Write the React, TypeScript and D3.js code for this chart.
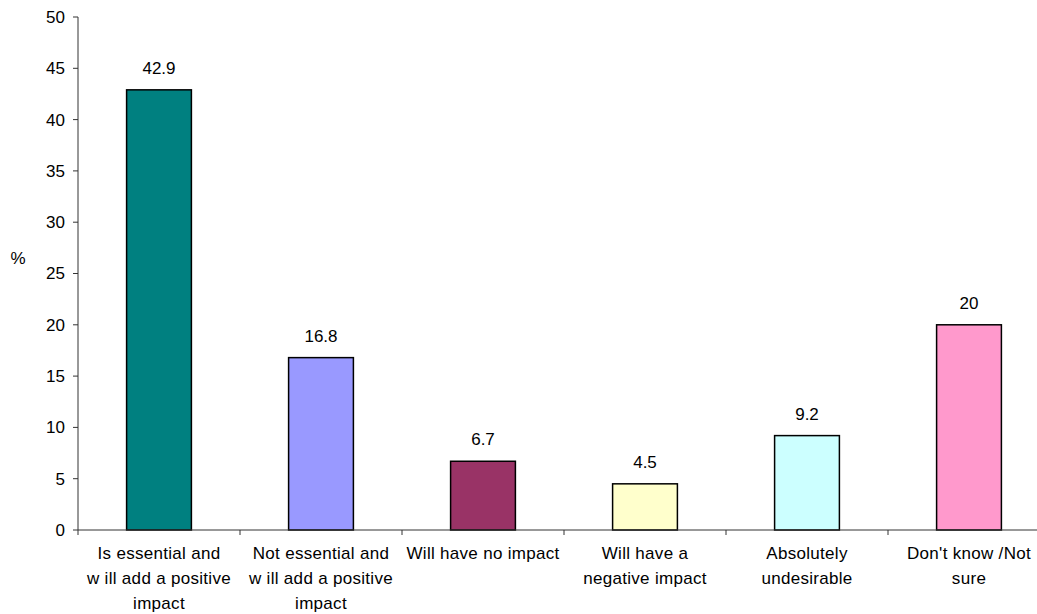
import React from "react";
import * as d3 from "d3";

const categories: string[][] = [
  ["Is essential and", "w ill add a positive", "impact"],
  ["Not essential and", "w ill add a positive", "impact"],
  ["Will have no impact"],
  ["Will have a", "negative impact"],
  ["Absolutely", "undesirable"],
  ["Don't know /Not", "sure"],
];
const values: number[] = [42.9, 16.8, 6.7, 4.5, 9.2, 20];
const valueLabels: string[] = ["42.9", "16.8", "6.7", "4.5", "9.2", "20"];
const colors: string[] = ["#008080", "#9999FF", "#993366", "#FFFFCC", "#CCFFFF", "#FF99CC"];
const yTicks: number[] = [0, 5, 10, 15, 20, 25, 30, 35, 40, 45, 50];

export default function App() {
  const W = 1037, H = 614;
  const left = 78, right = 1050, top = 17, bottom = 530;
  const idx = values.map((_, i) => String(i));
  const x = d3.scaleBand<string>().domain(idx).range([left, right]).paddingInner(0.6).paddingOuter(0.3);
  const y = d3.scaleLinear().domain([0, 50]).range([bottom, top]);
  const step = (right - left) / values.length;
  const font = "Arial, 'Liberation Sans', sans-serif";
  const axisColor = "#333";
  const fs = 17;
  return (
    <svg width={W} height={H} style={{ position: "absolute", left: 0, top: 0, overflow: "hidden", background: "#fff" }} fontFamily={font}>
      <rect x={0} y={0} width={W} height={H} fill="#fff" />
      {/* y axis */}
      <line x1={left} x2={left} y1={top} y2={bottom} stroke={axisColor} strokeWidth={1} />
      {yTicks.map((t) => (
        <g key={t}>
          <line x1={left - 5} x2={left} y1={y(t)} y2={y(t)} stroke={axisColor} />
          <text x={left - 13} y={y(t)} dy="0.35em" textAnchor="end" fontSize={fs} fill="#000">{t}</text>
        </g>
      ))}
      <text x={18} y={258} dy="0.35em" textAnchor="middle" fontSize={fs} fill="#000">%</text>
      {/* bars */}
      {values.map((v, i) => (
        <g key={i}>
          <rect x={x(String(i))} y={y(v)} width={x.bandwidth()} height={y(0) - y(v)} fill={colors[i]} stroke="#000" strokeWidth={1.5} />
          <text x={(x(String(i)) as number) + x.bandwidth() / 2} y={y(v) - 16} textAnchor="middle" fontSize={fs} fill="#000">{valueLabels[i]}</text>
        </g>
      ))}
      {/* x axis */}
      <line x1={left} x2={right} y1={bottom} y2={bottom} stroke={axisColor} strokeWidth={1} />
      {d3.range(values.length + 1).map((k) => (
        <line key={k} x1={left + k * step} x2={left + k * step} y1={bottom} y2={bottom + 5} stroke={axisColor} />
      ))}
      {categories.map((lines, i) => (
        <text key={i} x={(x(String(i)) as number) + x.bandwidth() / 2} textAnchor="middle" fontSize={fs} letterSpacing={0.3} fill="#000">
          {lines.map((l, j) => (
            <tspan key={j} x={(x(String(i)) as number) + x.bandwidth() / 2} y={559 + j * 25}>{l}</tspan>
          ))}
        </text>
      ))}
    </svg>
  );
}
